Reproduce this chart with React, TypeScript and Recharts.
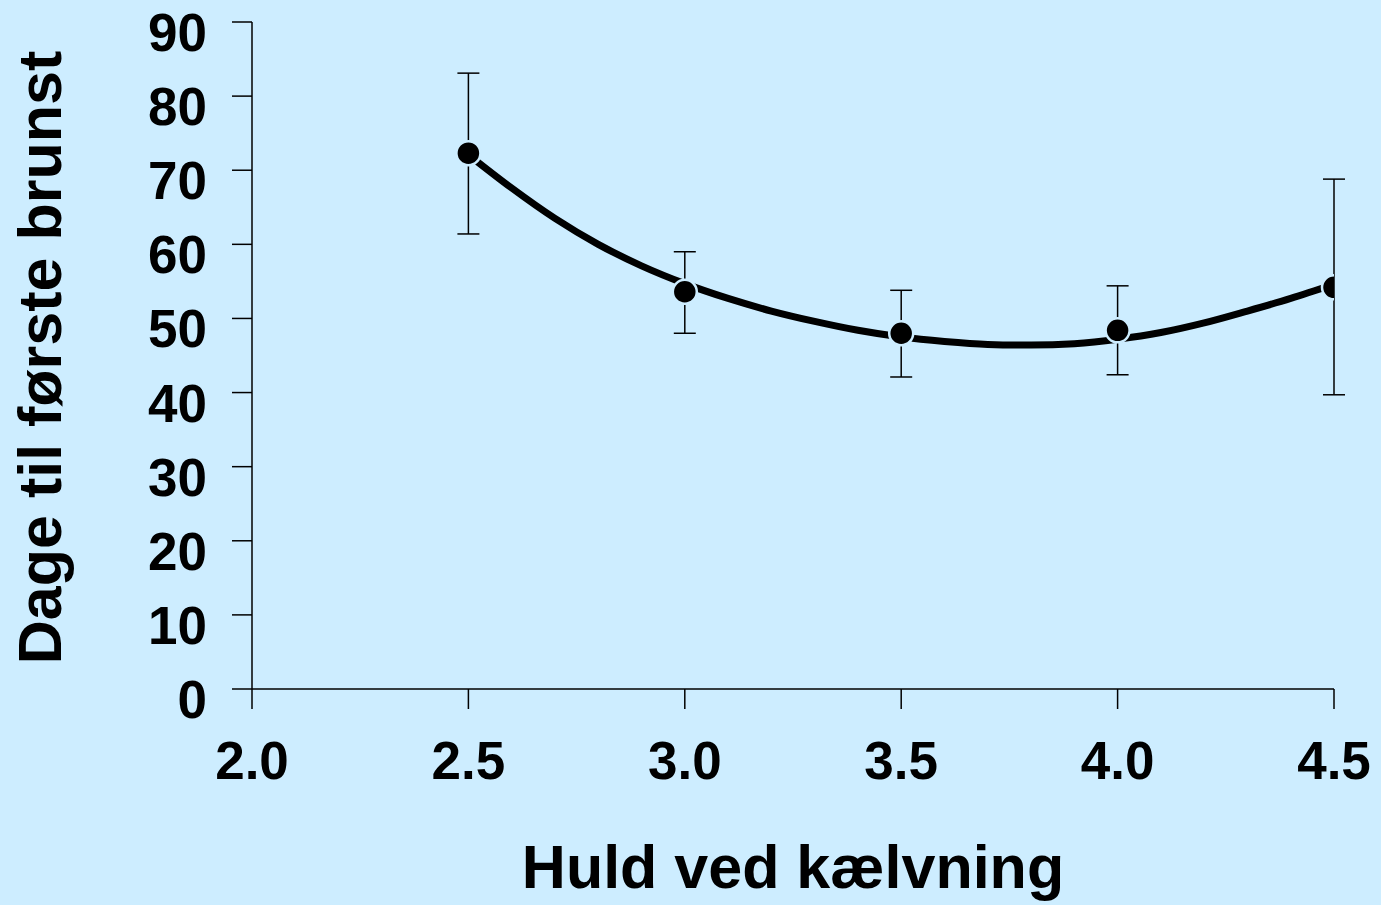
import { ComposedChart, Scatter, Line, XAxis, YAxis, ErrorBar, Label } from "recharts";

const BG = "#cdedff";
const FONT = "'Liberation Sans', Arial, sans-serif";

// observed means with error bars (lower / upper distance)
const huld = [2.5, 3.0, 3.5, 4.0, 4.5];
const dage = [72.3, 53.6, 48.0, 48.4, 54.2];
const errLow = [10.9, 5.6, 5.9, 6.0, 14.5];
const errHigh = [10.8, 5.4, 5.8, 6.0, 14.6];

// fitted curve
const curveX = [2.5, 2.6, 2.7, 2.8, 2.9, 3.0, 3.1, 3.2, 3.3, 3.4, 3.5, 3.6, 3.7, 3.8, 3.9, 4.0, 4.1, 4.2, 4.3, 4.4, 4.5];
const curveY = [72.1, 67.6, 63.5, 60.0, 57.1, 54.7, 52.7, 51.0, 49.6, 48.4, 47.5, 46.9, 46.5, 46.4, 46.6, 47.2, 48.1, 49.4, 51.0, 52.7, 54.6];

const xTicks = [2.0, 2.5, 3.0, 3.5, 4.0, 4.5];
const yTicks = [0, 10, 20, 30, 40, 50, 60, 70, 80, 90];

const points = huld.map((x, i) => ({ x, y: dage[i], err: [errLow[i], errHigh[i]] }));
const curve = curveX.map((x, i) => ({ x, y: curveY[i] }));

const XTick = ({ x, y, payload }: any) => (
  <text x={x} y={y + 70} textAnchor="middle" fontFamily={FONT} fontWeight="bold" fontSize={53} fill="#000">
    {Number(payload.value).toFixed(1)}
  </text>
);

const YTick = ({ x, y, payload }: any) => (
  <text x={x - 25} y={y + 29} textAnchor="end" fontFamily={FONT} fontWeight="bold" fontSize={53} fill="#000">
    {payload.value}
  </text>
);

const Dot = ({ cx, cy }: any) => <circle cx={cx} cy={cy} r={12} fill="#000" stroke={BG} strokeWidth={2.5} />;

export default function App() {
  return (
    <div style={{ position: "absolute", left: 0, top: 0, width: 1381, height: 905, background: BG }}>
      <ComposedChart width={1381} height={905} margin={{ top: 22, right: 47, bottom: 0, left: 0 }}>
        <XAxis
          type="number"
          dataKey="x"
          domain={[2, 4.5]}
          ticks={xTicks}
          tickSize={20}
          tickMargin={0}
          tick={<XTick />}
          height={216}
          stroke="#000"
          strokeWidth={1.5}
          allowDataOverflow
        >
          <Label
            content={({ viewBox }: any) => (
              <text
                x={viewBox.x + viewBox.width / 2}
                y={888}
                textAnchor="middle"
                fontFamily={FONT}
                fontWeight="bold"
                fontSize={61}
                fill="#000"
              >
                Huld ved kælvning
              </text>
            )}
          />
        </XAxis>
        <YAxis
          type="number"
          dataKey="y"
          domain={[0, 90]}
          ticks={yTicks}
          tickSize={20}
          tickMargin={0}
          tick={<YTick />}
          width={252}
          stroke="#000"
          strokeWidth={1.5}
          allowDataOverflow
        >
          <Label
            content={({ viewBox }: any) => (
              <text
                transform={`translate(61, ${viewBox.y + viewBox.height / 2 + 2}) rotate(-90)`}
                textAnchor="middle"
                fontFamily={FONT}
                fontWeight="bold"
                fontSize={61}
                fill="#000"
              >
                Dage til første brunst
              </text>
            )}
          />
        </YAxis>
        <Scatter data={points} dataKey="y" shape={<Dot />} isAnimationActive={false}>
          <ErrorBar dataKey="err" direction="y" width={11} stroke="#000" strokeWidth={1.5} />
        </Scatter>
        <Line
          data={curve}
          dataKey="y"
          type="monotone"
          stroke="#000"
          strokeWidth={7}
          dot={false}
          activeDot={false}
          isAnimationActive={false}
        />
      </ComposedChart>
    </div>
  );
}
